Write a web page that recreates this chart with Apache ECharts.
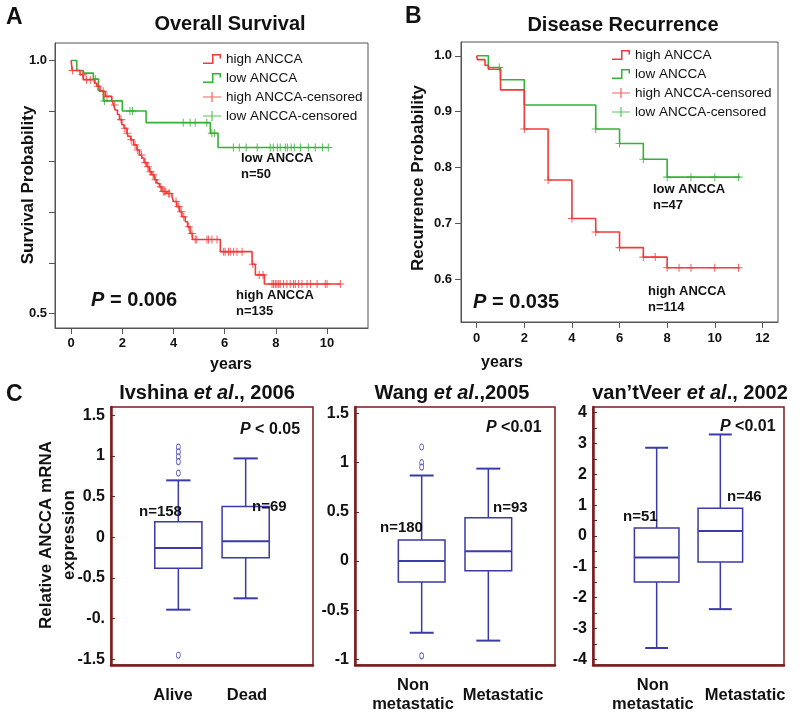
<!DOCTYPE html>
<html><head><meta charset="utf-8">
<script src="https://cdn.jsdelivr.net/npm/echarts@6/dist/echarts.min.js"></script>
<style>html,body{margin:0;padding:0;background:#fff}#c{width:800px;height:719px}</style>
</head><body><div id="c"></div>
<script>
// ---------- Panel A: Overall Survival (Kaplan-Meier) ----------
const redA_t = [0, 0.04, 0.35, 0.48, 0.91, 1.0, 1.13, 1.33, 1.59, 1.66, 1.72, 1.81, 1.89, 1.98, 2.07, 2.18, 2.24, 2.33, 2.44, 2.57, 2.67, 2.76, 2.85, 2.96, 3.05, 3.15, 3.25, 3.35, 3.45, 3.55, 3.74, 3.94, 4.0, 4.13, 4.24, 4.33, 4.46, 4.55, 4.65, 4.74, 5.83, 7.07, 7.2, 7.55, 10.52];
const redA_s = [1.0, 0.98, 0.972, 0.962, 0.955, 0.949, 0.939, 0.929, 0.922, 0.912, 0.902, 0.893, 0.883, 0.873, 0.866, 0.856, 0.85, 0.843, 0.833, 0.823, 0.813, 0.807, 0.798, 0.79, 0.78, 0.774, 0.764, 0.757, 0.75, 0.741, 0.737, 0.731, 0.721, 0.711, 0.701, 0.691, 0.681, 0.671, 0.658, 0.646, 0.622, 0.597, 0.576, 0.558, 0.558];
const redA_cens = [0.05, 0.45, 0.6, 0.75, 1.05, 1.25, 1.4, 1.7, 1.95, 2.1, 2.2, 2.35, 2.5, 2.6, 2.75, 2.9, 3.0, 3.1, 3.2, 3.3, 3.5, 3.6, 3.65, 3.7, 3.8, 3.85, 4.1, 4.2, 4.3, 4.4, 4.6, 4.72, 4.85, 4.91, 5.31, 5.37, 5.5, 5.7, 5.96, 6.02, 6.15, 6.22, 6.35, 6.48, 6.68, 7.1, 7.35, 7.5, 7.85, 7.91, 7.98, 8.04, 8.11, 8.17, 8.3, 8.43, 8.56, 8.69, 8.76, 8.89, 9.02, 9.22, 9.35, 9.61, 9.93, 10.0, 10.52];
const greenA_t = [0, 0.22, 0.48, 0.87, 1.07, 1.26, 2.0, 2.93, 5.44, 5.74, 10.05];
const greenA_s = [1.0, 0.98, 0.975, 0.963, 0.94, 0.92, 0.90, 0.877, 0.856, 0.828, 0.828];
const greenA_cens = [0.95, 1.3, 2.3, 2.4, 4.38, 4.65, 4.85, 5.3, 5.5, 5.6, 6.34, 6.57, 6.84, 7.27, 7.78, 7.9, 8.06, 8.17, 8.37, 8.45, 8.6, 8.72, 8.96, 9.27, 9.54, 9.82, 10.05];
const ticksA_x = [0, 2, 4, 6, 8, 10];
const ticksA_y = [0.5, 0.6, 0.7, 0.8, 0.9, 1.0];

// ---------- Panel B: Disease Recurrence ----------
const redB_t = [0, 0.03, 0.35, 0.49, 1.0, 2.0, 3.0, 4.0, 5.0, 6.0, 7.0, 8.0, 11.05];
const redB_s = [1.0, 0.993, 0.983, 0.976, 0.939, 0.869, 0.778, 0.709, 0.685, 0.657, 0.64, 0.621, 0.621];
const redB_cens = [2, 3, 4, 5, 6, 7, 7.5, 8, 8.5, 9, 10, 11];
const greenB_t = [0, 0.49, 1.0, 2.0, 5.0, 6.0, 7.0, 8.0, 11.05];
const greenB_s = [1.0, 0.979, 0.957, 0.912, 0.869, 0.843, 0.815, 0.783, 0.783];
const greenB_cens = [0.95, 5, 6, 7, 8, 9, 10, 11];
const ticksB_x = [0, 2, 4, 6, 8, 10, 12];
const ticksB_y = [0.6, 0.7, 0.8, 0.9, 1.0];

// ---------- Panel C: box plots [min, Q1, median, Q3, max] ----------
const categoriesC1 = ['Alive', 'Dead'];
const boxC1 = [[-0.89, -0.38, -0.13, 0.19, 0.70], [-0.75, -0.25, -0.05, 0.38, 0.97]];
const outliersC1 = [[1.11, 1.05, 0.99, 0.93, 0.79, -1.45], []];
const ticksC1 = [-1.5, -1, -0.5, 0, 0.5, 1, 1.5];

const categoriesC2 = ['Non\nmetastatic', 'Metastatic'];
const boxC2 = [[-0.73, -0.213, 0.0, 0.213, 0.87], [-0.81, -0.10, 0.10, 0.44, 0.94]];
const outliersC2 = [[1.16, 1.0, 0.955, -0.965], []];
const ticksC2 = [-1, -0.5, 0, 0.5, 1, 1.5];

const categoriesC3 = ['Non\nmetastatic', 'Metastatic'];
const boxC3 = [[-3.63, -1.49, -0.70, 0.26, 2.86], [-2.37, -0.84, 0.16, 0.90, 3.29]];
const outliersC3 = [[], []];
const ticksC3 = [-4, -3, -2, -1, 0, 1, 2, 3, 4];
const minorTicksC3 = [-4, -3.5, -3, -2.5, -2, -1.5, -1, -0.5, 0, 0.5, 1, 1.5, 2, 2.5, 3, 3.5, 4];

// ---------- styling ----------
const FONT = "'Liberation Sans', Arial, Helvetica, sans-serif";
const RED = '#f23a3a', GREEN = '#33b233', BLUE = '#3a3aa8', FRAME = '#7a1d1d', AXG = '#555';
const PLUS = 'path://M0,4.35H10V5.65H0ZM4.35,0H5.65V10H4.35Z';
const STEP_ICON = 'path://M0,8.5H9V0H18V4.5H16.5V1.5H10.5V10H0Z';
const PLUS_ICON = 'path://M0,4.4H18V5.6H0ZM8.4,0H9.6V10H8.4Z';

function stepAt(t, ts, ss) { let v = ss[0]; for (let i = 0; i < ts.length; i++) { if (ts[i] <= t + 1e-9) v = ss[i]; } return v; }
const pairs = (ts, ss) => ts.map((t, i) => [t, ss[i]]);
const cens = (c, ts, ss) => c.map(t => [t, stepAt(t, ts, ss)]);

function kmSeries(gi, rt, rs, rc, gt, gs, gc) {
  return [
    { type: 'line', name: 'low ANCCA', xAxisIndex: gi, yAxisIndex: gi, data: pairs(gt, gs), step: 'end', symbol: 'none', lineStyle: { color: GREEN, width: 1.6 }, itemStyle: { color: GREEN }, z: 2, animation: false },
    { type: 'line', name: 'high ANCCA', xAxisIndex: gi, yAxisIndex: gi, data: pairs(rt, rs), step: 'end', symbol: 'none', lineStyle: { color: RED, width: 1.6 }, itemStyle: { color: RED }, z: 3, animation: false },
    { type: 'scatter', name: 'low ANCCA-censored', xAxisIndex: gi, yAxisIndex: gi, data: cens(gc, gt, gs), symbol: PLUS, symbolSize: 8, itemStyle: { color: GREEN }, z: 4, animation: false },
    { type: 'scatter', name: 'high ANCCA-censored', xAxisIndex: gi, yAxisIndex: gi, data: cens(rc, rt, rs), symbol: PLUS, symbolSize: 8, itemStyle: { color: RED }, z: 5, animation: false }
  ];
}

function boxRender(params, api) {
  const x = api.value(0);
  const lo = api.coord([x, api.value(1)]), q1 = api.coord([x, api.value(2)]), md = api.coord([x, api.value(3)]);
  const q3 = api.coord([x, api.value(4)]), hi = api.coord([x, api.value(5)]);
  const w = api.size([0.7, 0])[0], cw = api.size([0.36, 0])[0];
  const cx = md[0];
  const ls = { stroke: BLUE, lineWidth: 1.5 };
  return { type: 'group', children: [
    { type: 'line', shape: { x1: cx, y1: q3[1], x2: cx, y2: hi[1] }, style: ls },
    { type: 'line', shape: { x1: cx, y1: q1[1], x2: cx, y2: lo[1] }, style: ls },
    { type: 'line', shape: { x1: cx - cw / 2, y1: hi[1], x2: cx + cw / 2, y2: hi[1] }, style: { stroke: BLUE, lineWidth: 2 } },
    { type: 'line', shape: { x1: cx - cw / 2, y1: lo[1], x2: cx + cw / 2, y2: lo[1] }, style: { stroke: BLUE, lineWidth: 2 } },
    { type: 'rect', shape: { x: cx - w / 2, y: q3[1], width: w, height: q1[1] - q3[1] }, style: { fill: '#fff', stroke: BLUE, lineWidth: 1.5 } },
    { type: 'line', shape: { x1: cx - w / 2, y1: md[1], x2: cx + w / 2, y2: md[1] }, style: { stroke: BLUE, lineWidth: 2 } }
  ] };
}
function boxSeries(gi, box, outs) {
  const data = box.map((b, i) => [i + 1].concat(b));
  const od = [];
  outs.forEach((arr, i) => arr.forEach(v => od.push([i + 1, v])));
  return [
    { type: 'custom', xAxisIndex: gi, yAxisIndex: gi, renderItem: boxRender, data: data, encode: { x: 0, y: [1, 2, 3, 4, 5] }, animation: false, z: 2 },
    { type: 'scatter', xAxisIndex: gi, yAxisIndex: gi, data: od, symbol: 'circle', symbolSize: [4, 6], itemStyle: { color: '#fff', borderColor: BLUE, borderWidth: 1 }, animation: false, z: 3 }
  ];
}

const gridBase = { show: true, backgroundColor: 'transparent', containLabel: false, outerBoundsMode: 'none' };
const grids = [
  Object.assign({ left: 55, top: 43, width: 313, height: 285, borderColor: AXG, borderWidth: 1 }, gridBase),
  Object.assign({ left: 461, top: 42, width: 317, height: 280, borderColor: AXG, borderWidth: 1 }, gridBase),
  Object.assign({ left: 111, top: 407, width: 202, height: 258, borderColor: FRAME, borderWidth: 1.5 }, gridBase),
  Object.assign({ left: 355, top: 407, width: 200, height: 258, borderColor: FRAME, borderWidth: 1.5 }, gridBase),
  Object.assign({ left: 593, top: 407, width: 191, height: 258, borderColor: FRAME, borderWidth: 1.5 }, gridBase)
];

const lblKM = { fontFamily: FONT, fontSize: 13, fontWeight: 'bold', color: '#111' };
function kmX(gi, min, max, ticks, margin) {
  return { type: 'value', gridIndex: gi, min: min, max: max, splitLine: { show: false },
    axisLine: { show: true, onZero: false, lineStyle: { color: AXG, width: 1 } },
    axisTick: { show: true, inside: false, length: 6, customValues: ticks, lineStyle: { color: AXG } },
    axisLabel: Object.assign({ customValues: ticks, margin: margin, formatter: v => String(v) }, lblKM) };
}
function kmY(gi, min, max, ticks, fmt, margin) {
  return { type: 'value', gridIndex: gi, min: min, max: max, splitLine: { show: false },
    axisLine: { show: true, onZero: false, lineStyle: { color: AXG, width: 1 } },
    axisTick: { show: true, inside: false, length: 6, customValues: ticks, lineStyle: { color: AXG } },
    axisLabel: Object.assign({ customValues: ticks, margin: margin, formatter: fmt }, lblKM) };
}
const lblC = { fontFamily: FONT, fontSize: 16, fontWeight: 'bold', color: '#111' };
function cX(gi, cats, labelPos) {
  return { type: 'value', gridIndex: gi, min: 0, max: 3, splitLine: { show: false },
    axisLine: { show: true, onZero: false, lineStyle: { color: FRAME, width: 2.5 } },
    axisTick: { show: false },
    axisLabel: Object.assign({}, lblC, { customValues: labelPos, margin: 30, verticalAlign: 'middle', lineHeight: 19, fontSize: 16.5,
      formatter: v => { let bi = 0, bd = 1e9; labelPos.forEach((p, i) => { const d = Math.abs(p - v); if (d < bd) { bd = d; bi = i; } }); return cats[bi]; } }) };
}
function cY(gi, min, max, ticks, tickVals, fmt) {
  return { type: 'value', gridIndex: gi, min: min, max: max, splitLine: { show: false },
    axisLine: { show: true, onZero: false, lineStyle: { color: FRAME, width: 2.5 } },
    axisTick: { show: true, inside: true, length: 4, customValues: tickVals, lineStyle: { color: FRAME, width: 1 } },
    axisLabel: Object.assign({ customValues: ticks, margin: 6, formatter: fmt }, lblC) };
}

const xAxes = [
  kmX(0, -0.63, 11.6, ticksA_x, 9),
  kmX(1, -0.659, 12.656, ticksB_x, 10),
  cX(2, categoriesC1, [0.92, 2.02]),
  cX(3, categoriesC2, [0.87, 2.22]),
  cX(4, categoriesC3, [0.94, 2.39])
];
const yAxes = [
  kmY(0, 0.471, 1.0345, ticksA_y, v => (Math.abs(v - 1) < 1e-6 ? '1.0' : (Math.abs(v - 0.5) < 1e-6 ? '0.5' : '')), 8),
  kmY(1, 0.524, 1.0246, ticksB_y, v => v.toFixed(1), 9),
  cY(2, -1.570, 1.602, ticksC1, ticksC1, v => (v === -1 ? '-0.' : String(v))),
  cY(3, -1.058, 1.567, ticksC2, ticksC2, v => String(v)),
  cY(4, -4.18, 4.18, ticksC3, minorTicksC3, v => String(v))
];

const series = [].concat(
  kmSeries(0, redA_t, redA_s, redA_cens, greenA_t, greenA_s, greenA_cens),
  kmSeries(1, redB_t, redB_s, redB_cens, greenB_t, greenB_s, greenB_cens),
  boxSeries(2, boxC1, outliersC1),
  boxSeries(3, boxC2, outliersC2),
  boxSeries(4, boxC3, outliersC3)
);

const legendData = [
  { name: 'high ANCCA', icon: STEP_ICON }, { name: 'low ANCCA', icon: STEP_ICON },
  { name: 'high ANCCA-censored', icon: PLUS_ICON }, { name: 'low ANCCA-censored', icon: PLUS_ICON }
];
function legendAt(left, top) {
  return { left: left, top: top, orient: 'vertical', itemWidth: 18, itemHeight: 10, itemGap: 5, padding: 0, selectedMode: false,
    textStyle: { fontFamily: FONT, fontSize: 13.5, color: '#111' }, data: legendData };
}

function T(x, y, text, size, opts) {
  return Object.assign({ type: 'text', x: x, y: y, silent: true, z: 50,
    style: Object.assign({ text: text, fontFamily: FONT, fontSize: size, fontWeight: 'bold', fill: '#111', align: 'left', verticalAlign: 'middle' }, (opts && opts.style) || {}) },
    (opts && opts.el) || {});
}
const it = (sz) => ({ fontFamily: FONT, fontSize: sz, fontWeight: 'bold', fontStyle: 'italic', fill: '#111' });
const rg = (sz) => ({ fontFamily: FONT, fontSize: sz, fontWeight: 'bold', fill: '#111' });

const graphics = [
  T(6, 18, 'A', 23), T(405, 17, 'B', 23), T(6, 395, 'C', 23),
  T(230, 24, 'Overall Survival', 20, { style: { align: 'center' } }),
  T(623, 25, 'Disease Recurrence', 20, { style: { align: 'center' } }),
  T(28, 185, 'Survival Probability', 17, { style: { align: 'center' }, el: { rotation: Math.PI / 2 } }),
  T(418, 178, 'Recurrence Probability', 17, { style: { align: 'center' }, el: { rotation: Math.PI / 2 } }),
  T(231, 365, 'years', 16, { style: { align: 'center' } }),
  T(502, 363, 'years', 16, { style: { align: 'center' } }),
  T(241, 166, 'low ANCCA\nn=50', 13, { style: { lineHeight: 16 } }),
  T(236, 303, 'high ANCCA\nn=135', 13, { style: { lineHeight: 16 } }),
  T(653, 197, 'low ANCCA\nn=47', 13, { style: { lineHeight: 16 } }),
  T(648, 299, 'high ANCCA\nn=114', 13, { style: { lineHeight: 16 } }),
  T(91, 300, '{i|P}{r| = 0.006}', 20, { style: { rich: { i: it(20), r: rg(20) } } }),
  T(473, 302, '{i|P}{r| = 0.035}', 20, { style: { rich: { i: it(20), r: rg(20) } } }),
  // panel C titles
  T(207, 393, '{r|Ivshina }{i|et al}{r|., 2006}', 20, { style: { align: 'center', rich: { i: it(20), r: rg(20) } } }),
  T(452, 393, '{r|Wang }{i|et al}{r|.,2005}', 20, { style: { align: 'center', rich: { i: it(20), r: rg(20) } } }),
  T(690, 393, "{r|van’tVeer }{i|et al}{r|., 2002}", 20, { style: { align: 'center', rich: { i: it(20), r: rg(20) } } }),
  T(58, 535, 'Relative ANCCA mRNA\nexpression', 17, { style: { align: 'center', lineHeight: 23 }, el: { rotation: Math.PI / 2 } }),
  T(240, 430, '{i|P}{r| < 0.05}', 16, { style: { rich: { i: it(16), r: rg(16) } } }),
  T(486, 428, '{i|P}{r| <0.01}', 16, { style: { rich: { i: it(16), r: rg(16) } } }),
  T(720, 427, '{i|P}{r| <0.01}', 16, { style: { rich: { i: it(16), r: rg(16) } } }),
  T(139, 512, 'n=158', 15), T(252, 507, 'n=69', 15),
  T(380, 528, 'n=180', 15), T(493, 508, 'n=93', 15),
  T(623, 517, 'n=51', 15), T(727, 497, 'n=46', 15)
];

const chart = echarts.init(document.getElementById('c'), null, { renderer: 'canvas' });
chart.setOption({
  backgroundColor: '#fff',
  animation: false,
  textStyle: { fontFamily: FONT },
  grid: grids, xAxis: xAxes, yAxis: yAxes,
  legend: [legendAt(203, 52), legendAt(612, 48)],
  series: series,
  graphic: graphics
});
</script></body></html>
